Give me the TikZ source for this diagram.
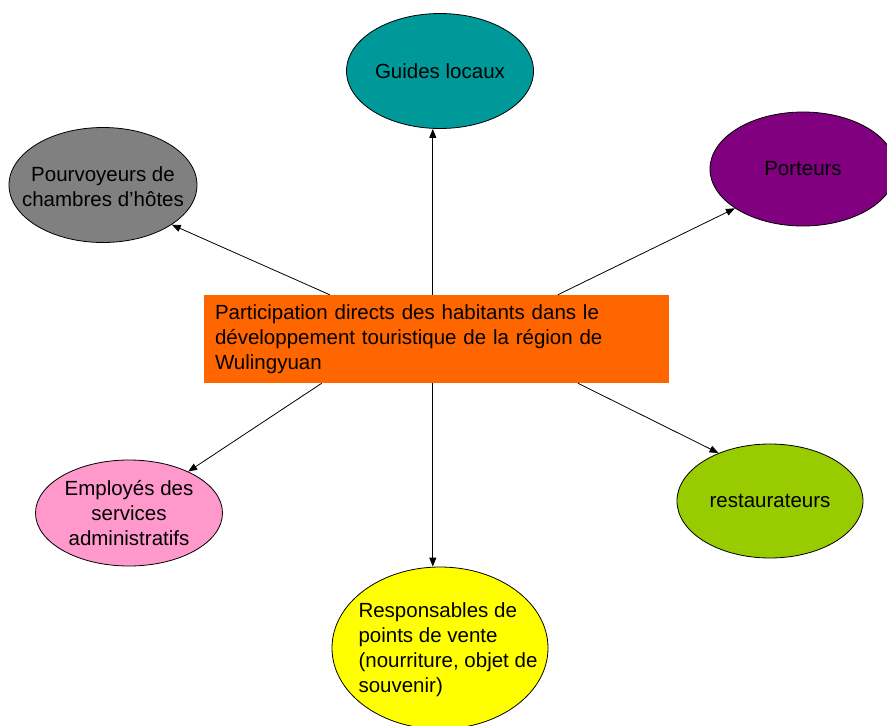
\documentclass[tikz,border=0pt]{standalone}
\usepackage{fontspec}
\setmainfont{Liberation Sans}
\usetikzlibrary{shapes.geometric,arrows.meta,calc}
\definecolor{cOrange}{HTML}{FF6600}
\definecolor{cTeal}{HTML}{009999}
\definecolor{cGray}{HTML}{808080}
\definecolor{cPurple}{HTML}{800080}
\definecolor{cPink}{HTML}{FF99CC}
\definecolor{cGreen}{HTML}{99CC00}
\definecolor{cYellow}{HTML}{FFFF00}
\begin{document}
\begin{tikzpicture}[x=1pt,y=-1pt,
  txt/.style={font=\fontsize{20.5}{25}\selectfont, text=black, inner sep=0pt},
  bubble/.style={ellipse, draw=black, line width=0.8pt, inner sep=0pt},
  arr/.style={draw=black, line width=0.8pt, -{Triangle[length=9pt,width=7pt]}}
]
\useasboundingbox (0,0) rectangle (887,726);
\fill[white] (0,0) rectangle (887,726);

\node[fill=cOrange, minimum width=465pt, minimum height=88pt, text width=443pt,
      inner xsep=11pt, inner ysep=0pt, align=left,
      font=\fontsize{20.5}{25}\selectfont] (c) at (436.5,339)
  {Participation directs des habitants dans le\\ développement touristique de la région de\\ Wulingyuan};

\node[bubble, fill=cTeal, minimum width=187pt, minimum height=115pt,
      label={[txt]center:Guides locaux}] (gl) at (440,71) {};
\node[bubble, fill=cGray, minimum width=188pt, minimum height=115pt,
      label={[txt,align=center,yshift=-2pt]center:{Pourvoyeurs de\\chambres d’hôtes}}] (pv) at (103,185) {};
\node[bubble, fill=cPurple, minimum width=186pt, minimum height=114pt,
      label={[txt]center:Porteurs}] (po) at (803,169) {};
\node[bubble, fill=cPink, minimum width=187pt, minimum height=106pt,
      label={[txt,align=center]center:{Employés des\\services\\administratifs}}] (em) at (129,513) {};
\node[bubble, fill=cGreen, minimum width=186pt, minimum height=114pt,
      label={[txt]center:restaurateurs}] (re) at (770,501) {};
\node[bubble, fill=cYellow, minimum width=216pt, minimum height=162pt,
      label={[txt,align=left,xshift=8pt,yshift=-2pt]center:{Responsables de\\points de vente\\(nourriture, objet de\\souvenir)}}] (rs) at (440,648) {};

\coordinate (sT) at ($(c.north west)+(229,0)$);
\coordinate (sB) at ($(c.south west)+(229,0)$);
\draw[arr] (sT) -- (sT |- gl.south);
\draw[arr] ($(c.north west)+(126,0)$) -- (pv.-30);
\draw[arr] ($(c.north west)+(354,0)$) -- (po.-150);
\draw[arr] ($(c.south west)+(118,0)$) -- (em.35);
\draw[arr] ($(c.south west)+(374,0)$) -- (re.137);
\draw[arr] (sB) -- (sB |- rs.north);
\end{tikzpicture}
\end{document}
